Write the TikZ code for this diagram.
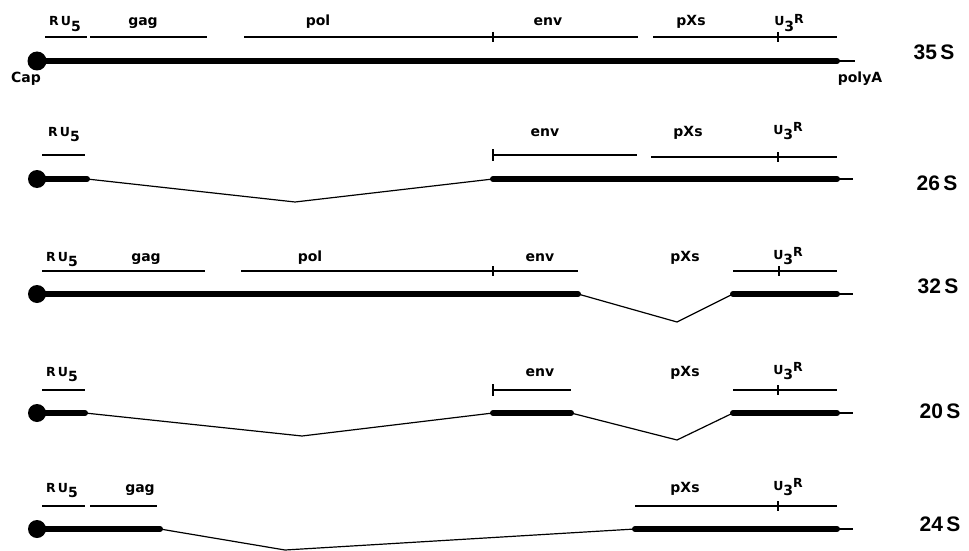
\documentclass[tikz,border=0pt]{standalone}
\usepackage{fontspec}
\setmainfont{DejaVu Sans}
\newfontfamily\sizefont{Liberation Sans}
\newcommand\ruv{{\fontsize{12.5}{12.5}\selectfont R\,U}\raisebox{-0.75ex}{5}}
\newcommand\uthr{{\fontsize{12.5}{12.5}\selectfont U}\raisebox{-0.75ex}{3}\raisebox{0.35ex}{\fontsize{12.5}{12.5}\selectfont R}}
\begin{document}
\begin{tikzpicture}[x=1pt,y=-1pt,
  gene/.style={line width=2.5pt},
  rna/.style={line width=6pt,line cap=round},
  intron/.style={line width=1.2pt},
  tick/.style={line width=1.8pt},
  lab/.style={anchor=base,inner sep=0pt,font=\bfseries\fontsize{14}{14}\selectfont},
  sz/.style={anchor=center,inner sep=0pt,font=\sizefont\bfseries\fontsize{21}{21}\selectfont},
  small/.style={inner sep=0pt,font=\bfseries\fontsize{14}{14}\selectfont},
  capdot/.style={fill=black}]
\useasboundingbox (0,0) rectangle (969,551);
% ---------------- 35S ----------------
\node[lab] (l1a) at (65,26) {\ruv};
\node[lab] (l1b) at (143,26) {gag};
\node[lab] (l1c) at (318,26) {pol};
\node[lab] (l1d) at (548,26) {env};
\node[lab] (l1e) at (691,26) {pXs};
\node[lab] (l1f) at (789,26) {\uthr};
\draw[gene] (45,37) -- (87,37);
\draw[gene] (90,37) -- (207,37);
\draw[gene] (244,37) -- (638,37);
\draw[tick] (493,32) -- (493,42);
\draw[gene] (653,37) -- (837,37);
\draw[tick] (778,32) -- (778,42);
\fill[capdot] (37,61) circle (9.5);
\draw[rna] (37,61) -- (837,61);
\draw[intron] (837,61) -- (855,61);
\node[small] (cap) at (26,79) {Cap};
\node[small] (polya) at (860,79) {polyA};
\node[sz] (s35) at (934,52) {35\,S};
% ---------------- 26S ----------------
\node[lab] (l2a) at (64,136) {\ruv};
\node[lab] (l2d) at (545,136) {env};
\node[lab] (l2e) at (688,136) {pXs};
\node[lab] (l2f) at (788,134) {\uthr};
\draw[gene] (42,155) -- (85,155);
\draw[gene] (493,155) -- (637,155);
\draw[tick] (493,149) -- (493,161);
\draw[gene] (651,157) -- (837,157);
\draw[tick] (778,152) -- (778,162);
\fill[capdot] (37,179) circle (9);
\draw[rna] (37,179) -- (87,179);
\draw[intron] (87,179) -- (295,202) -- (493,179);
\draw[rna] (493,179) -- (837,179);
\draw[intron] (837,179) -- (853,179);
\node[sz] (s26) at (937,183) {26\,S};
% ---------------- 32S ----------------
\node[lab] (l3a) at (62,261) {\ruv};
\node[lab] (l3b) at (146,261) {gag};
\node[lab] (l3c) at (310,261) {pol};
\node[lab] (l3d) at (540,261) {env};
\node[lab] (l3e) at (685,261) {pXs};
\node[lab] (l3f) at (788,259) {\uthr};
\draw[gene] (42,271) -- (205,271);
\draw[gene] (241,271) -- (578,271);
\draw[tick] (493,266) -- (493,276);
\draw[gene] (733,271) -- (837,271);
\draw[tick] (779,266) -- (779,276);
\fill[capdot] (37,294) circle (9);
\draw[rna] (37,294) -- (578,294);
\draw[intron] (578,294) -- (677,322) -- (733,294);
\draw[rna] (733,294) -- (837,294);
\draw[intron] (837,294) -- (853,294);
\node[sz] (s32) at (938,286) {32\,S};
% ---------------- 20S ----------------
\node[lab] (l4a) at (62,376) {\ruv};
\node[lab] (l4d) at (540,376) {env};
\node[lab] (l4e) at (685,376) {pXs};
\node[lab] (l4f) at (788,374) {\uthr};
\draw[gene] (42,390) -- (85,390);
\draw[gene] (493,390) -- (571,390);
\draw[tick] (493,384) -- (493,396);
\draw[gene] (733,390) -- (837,390);
\draw[tick] (778,385) -- (778,395);
\fill[capdot] (37,413) circle (9);
\draw[rna] (37,413) -- (85,413);
\draw[intron] (85,413) -- (302,436) -- (493,413);
\draw[rna] (493,413) -- (571,413);
\draw[intron] (571,413) -- (677,440) -- (733,413);
\draw[rna] (733,413) -- (837,413);
\draw[intron] (837,413) -- (853,413);
\node[sz] (s20) at (940,411) {20\,S};
% ---------------- 24S ----------------
\node[lab] (l5a) at (62,492) {\ruv};
\node[lab] (l5b) at (140,492) {gag};
\node[lab] (l5e) at (685,492) {pXs};
\node[lab] (l5f) at (788,490) {\uthr};
\draw[gene] (42,506) -- (85,506);
\draw[gene] (90,506) -- (157,506);
\draw[gene] (635,506) -- (837,506);
\draw[tick] (778,501) -- (778,511);
\fill[capdot] (37,529) circle (9);
\draw[rna] (37,529) -- (160,529);
\draw[intron] (160,529) -- (285,550) -- (635,529);
\draw[rna] (635,529) -- (837,529);
\draw[intron] (837,529) -- (853,529);
\node[sz] (s24) at (940,524) {24\,S};
\end{tikzpicture}
\end{document}
